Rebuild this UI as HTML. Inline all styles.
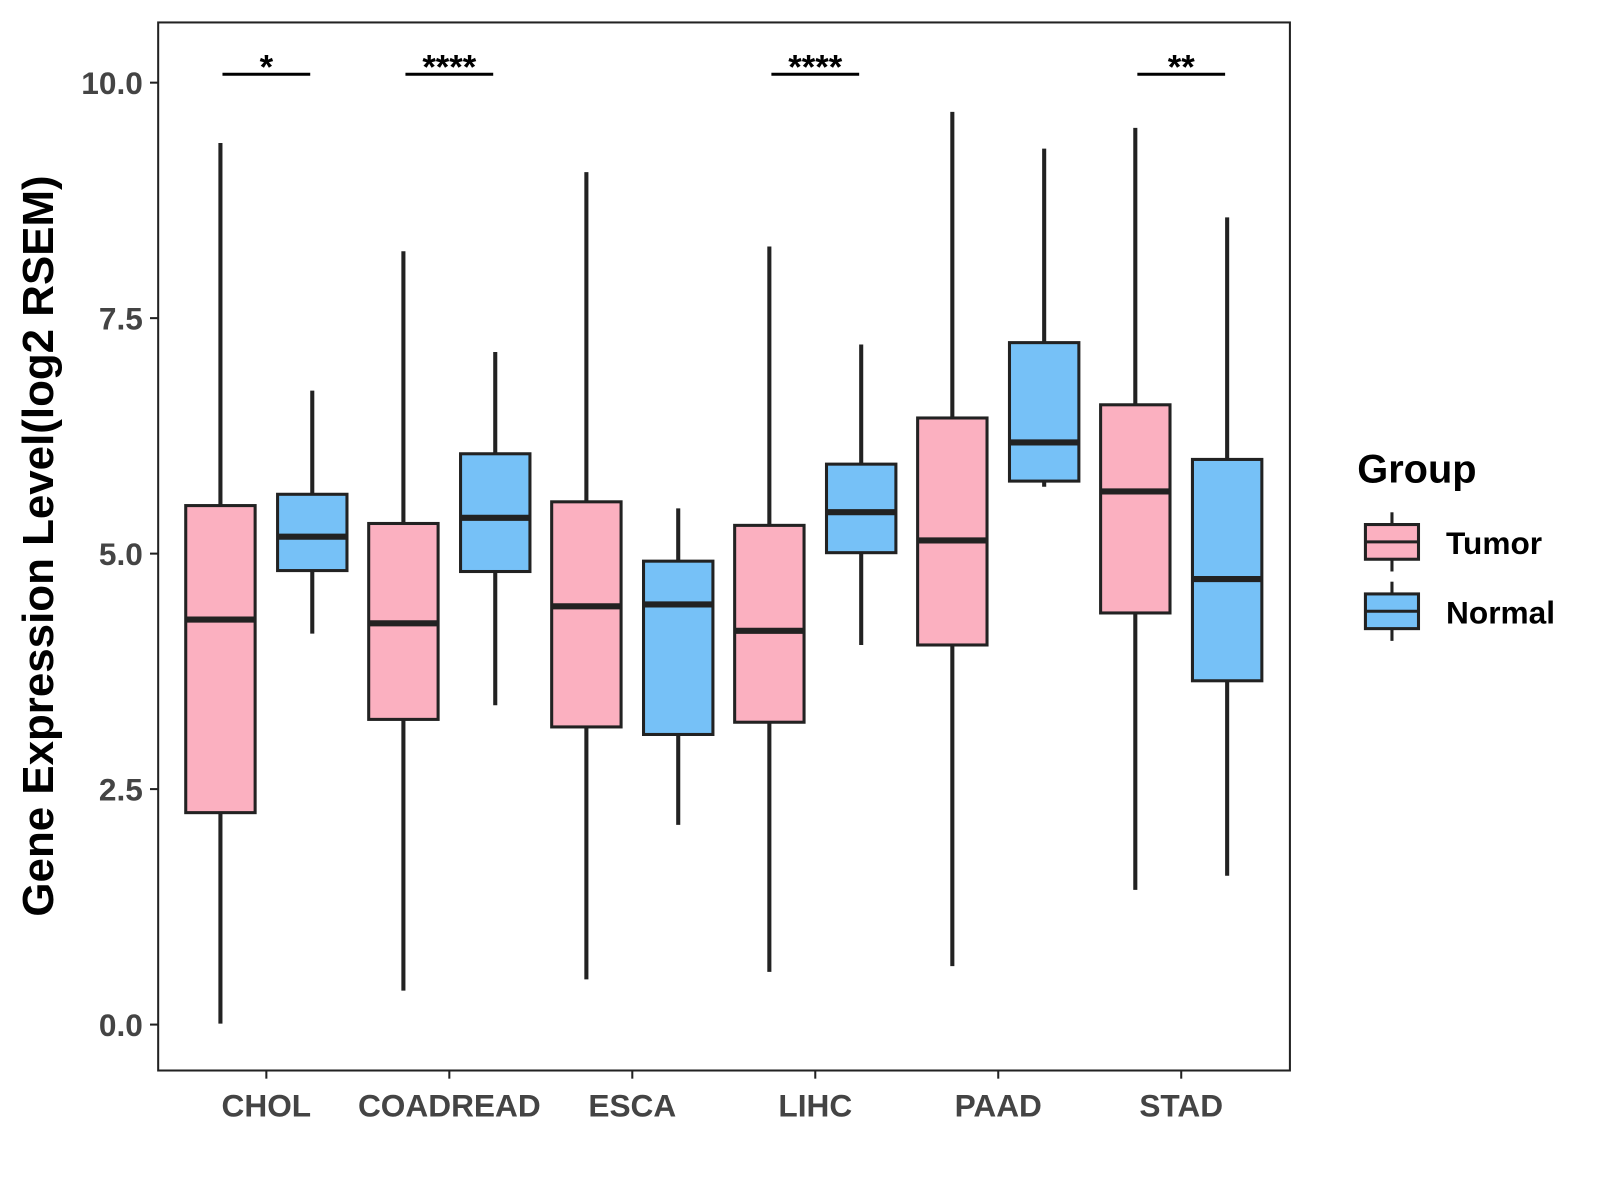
<!DOCTYPE html>
<html><head><meta charset="utf-8"><style>
html,body{margin:0;padding:0;background:#fff;}
svg{display:block;font-family:"Liberation Sans",Arial,sans-serif;}
</style></head><body>
<svg id="chart" width="1600" height="1200">
<g transform="scale(1.0205)">
<rect x="155" y="22" width="1109" height="1027" fill="#fff" stroke="#222" stroke-width="2"/>
<g id="marks"></g>
<text transform="translate(52,535) rotate(-90)" text-anchor="middle" font-size="43" font-weight="bold" fill="#000">Gene Expression Level(log2 RSEM)</text>
<g>
<text x="1330" y="473" font-size="39" font-weight="bold">Group</text>
<g>
<line x1="1364" y1="502" x2="1364" y2="560" stroke="#222" stroke-width="3"/>
<rect x="1338" y="514" width="52" height="34" fill="#FBB0C0" stroke="#222" stroke-width="3"/>
<line x1="1338" y1="531" x2="1390" y2="531" stroke="#222" stroke-width="3"/>
<text x="1417" y="543" font-size="31" font-weight="bold">Tumor</text></g>
<g>
<line x1="1364" y1="570" x2="1364" y2="628" stroke="#222" stroke-width="3"/>
<rect x="1338" y="582" width="52" height="34" fill="#76C1F7" stroke="#222" stroke-width="3"/>
<line x1="1338" y1="599" x2="1390" y2="599" stroke="#222" stroke-width="3"/>
<text x="1417" y="611" font-size="31" font-weight="bold">Normal</text></g>
</g>
</g>
</svg>
<script>
const categories=["CHOL","COADREAD","ESCA","LIHC","PAAD","STAD"];
const tumorMin=[0.01,0.36,0.48,0.56,0.62,1.43];
const tumorQ1=[2.25,3.24,3.16,3.21,4.03,4.37];
const tumorMed=[4.30,4.26,4.44,4.18,5.14,5.66];
const tumorQ3=[5.51,5.32,5.55,5.30,6.44,6.58];
const tumorMax=[9.36,8.21,9.05,8.26,9.69,9.52];
const normalMin=[4.15,3.39,2.12,4.03,5.71,1.58];
const normalQ1=[4.82,4.81,3.08,5.01,5.77,3.65];
const normalMed=[5.18,5.38,4.46,5.44,6.18,4.73];
const normalQ3=[5.63,6.06,4.92,5.95,7.24,6.00];
const normalMax=[6.73,7.14,5.48,7.22,9.30,8.57];
const signif=["*","****","","****","","**"];
const yTicks=[0,2.5,5,7.5,10];
const yTickLabels=["0.0","2.5","5.0","7.5","10.0"];
const sigLevel=10.1;

const NS="http://www.w3.org/2000/svg";
const g=document.getElementById("marks");
const y=v=>1004-v*92.3;
const x=i=>261+i*179.3;
function mk(t,a,p){const e=document.createElementNS(NS,t);for(const k in a)e.setAttribute(k,a[k]);(p||g).appendChild(e);return e;}

yTicks.forEach((t,i)=>{
 const l=mk("line",{x1:147,x2:155,y1:y(t),y2:y(t),stroke:"#222","stroke-width":2});
 
 
 const tx=mk("text",{x:140,y:y(t)+11,"text-anchor":"end","font-size":31,"font-weight":"bold",fill:"#444"});
 tx.textContent=yTickLabels[i];
 
 
});
categories.forEach((c,i)=>{
 const l=mk("line",{x1:x(i),x2:x(i),y1:1049,y2:1057,stroke:"#222","stroke-width":2});
 
 
 const tx=mk("text",{x:x(i),y:1094,"text-anchor":"middle","font-size":31,"font-weight":"bold",fill:"#444"});
 tx.textContent=c;
 
 
});
function box(cx,mn,q1,md,q3,mx,fill,name){
 const gg=mk("g",{});
 
 
 mk("line",{x1:cx,x2:cx,y1:y(mx),y2:y(mn),stroke:"#222","stroke-width":4},gg);
 mk("rect",{x:cx-34,y:y(q3),width:68,height:y(q1)-y(q3),fill:fill,stroke:"#222","stroke-width":3},gg);
 mk("line",{x1:cx-34,x2:cx+34,y1:y(md),y2:y(md),stroke:"#222","stroke-width":6},gg);
}
categories.forEach((c,i)=>{
 box(x(i)-45,tumorMin[i],tumorQ1[i],tumorMed[i],tumorQ3[i],tumorMax[i],"#FBB0C0","box-tumor-"+c.toLowerCase());
 box(x(i)+45,normalMin[i],normalQ1[i],normalMed[i],normalQ3[i],normalMax[i],"#76C1F7","box-normal-"+c.toLowerCase());
 if(signif[i]){
  const l=mk("line",{x1:x(i)-43,x2:x(i)+43,y1:y(sigLevel)+1,y2:y(sigLevel)+1,stroke:"#000","stroke-width":3});
  
  
  const t=mk("text",{x:x(i),y:y(sigLevel)+5,"text-anchor":"middle","font-size":34,"font-weight":"bold"});
  t.textContent=signif[i];
  
  
 }
});
</script>
</body></html>
